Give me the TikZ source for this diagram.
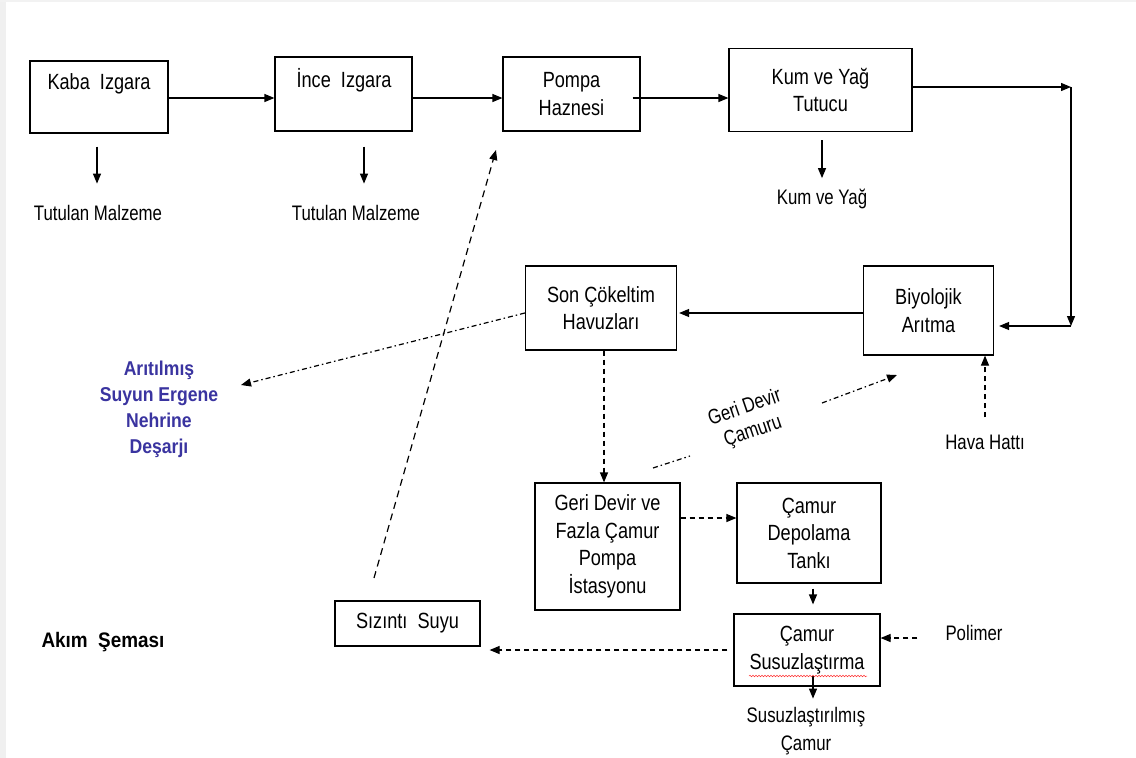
\documentclass[tikz,border=0pt]{standalone}
\usepackage{fontspec}
\setmainfont{Liberation Sans}[FakeStretch=0.8]
\newfontfamily\boxf{Liberation Sans}[FakeStretch=0.825]
\newfontfamily\akimf{Liberation Sans}[FakeStretch=0.9]
\newfontfamily\bluef{Liberation Sans}[FakeStretch=0.88]
\usetikzlibrary{arrows.meta,decorations.pathmorphing,calc}
\definecolor{dblue}{RGB}{58,52,160}
\begin{document}
\begin{tikzpicture}[x=1pt,y=-1pt,
 box/.style={draw, line width=1.2pt, inner sep=0pt, align=center, font=\boxf\fontsize{22}{27.5}\selectfont},
 btxt/.style={inner sep=0pt, align=center, font=\boxf\fontsize{22}{27.5}\selectfont},
 txt/.style={inner sep=0pt, align=center, font=\fontsize{21}{28}\selectfont},
 arr/.style={line width=1.2pt, -{Triangle[length=10pt,width=8pt]}},
 dsh/.style={arr, dash pattern=on 5pt off 4pt},
 dshdot/.style={arr, dash pattern=on 5pt off 3pt on 1.5pt off 3pt},
 ddline/.style={line width=1.2pt, dash pattern=on 5pt off 3pt on 1.5pt off 3pt},
]
\fill[white] (0,0) rectangle (1136,758);
\useasboundingbox (0,0) rectangle (1136,758);
\fill[gray!12] (0,0) rectangle (6,758);
\fill[gray!10] (0,0) rectangle (1136,2);

% boxes
\node[box, minimum width=138pt, minimum height=72pt] (kaba) at (99,97) {};
\node[btxt] (kabat) at (99,84) {Kaba\ \ Izgara};
\node[box, minimum width=137pt, minimum height=74pt] (ince) at (343.5,94) {};
\node[btxt] (incet) at (344,80) {İnce\ \ Izgara};
\node[box, minimum width=137pt, minimum height=74pt] (pompa) at (571.5,94) {Pompa\\Haznesi};
\node[box, minimum width=183pt, minimum height=83pt] (kum) at (820.5,90) {Kum ve Yağ\\Tutucu};
\node[box, minimum width=130pt, minimum height=89pt] (biyo) at (928.5,310.5) {Biyolojik\\Arıtma};
\node[box, minimum width=151pt, minimum height=84pt] (son) at (601,308) {Son Çökeltim\\Havuzları};
\node[box, minimum width=145pt, minimum height=127pt] (geri) at (607.5,546.5) {Geri Devir ve\\Fazla Çamur\\Pompa\\İstasyonu};
\node[box, minimum width=144pt, minimum height=100pt] (depo) at (809,533) {Çamur\\Depolama\\Tankı};
\node[box, minimum width=146pt, minimum height=72pt] (susuz) at (807,650) {Çamur\\Susuzlaştırma};
\node[box, minimum width=145pt, minimum height=45pt] (sizinti) at (407.5,623.5) {Sızıntı\ \ Suyu};

% free texts
\node[txt] (t1) at (98,213) {Tutulan Malzeme};
\node[txt] (t2) at (356,213) {Tutulan Malzeme};
\node[txt] (t3) at (822,199) {Kum ve Yağ};
\node[txt] (hava) at (985,442) {Hava Hattı};
\node[txt] (polimer) at (974,633) {Polimer};
\node[txt] (sus2) at (806,731) {Susuzlaştırılmış\\Çamur};
\node[inner sep=0pt, align=center, text=dblue, font=\bluef\bfseries\fontsize{20}{26}\selectfont] (arit) at (159,409) {Arıtılmış\\Suyun Ergene\\Nehrine\\Deşarjı};
\node[inner sep=0pt, font=\akimf\bfseries\fontsize{21}{27}\selectfont] (akim) at (103,642) {Akım\ \ Şeması};
\node[txt, rotate=19, font=\fontsize{21}{25}\selectfont] (gd) at (749,420) {Geri Devir\\Çamuru};

% coordinates
\coordinate (c1) at (1071,87);
\coordinate (c2) at (1071,326);
\coordinate (outp) at (241,385);
\coordinate (szs) at (374,578);
\coordinate (pzt) at (496,150);
\coordinate (g1) at (653,468);
\coordinate (g2) at (690,456);
\coordinate (g3) at (822,403);
\coordinate (g4) at (897,375);
\coordinate (pa) at ($(polimer.west)+(-28,5)$);

% solid flow
\draw[arr] ([yshift=-1pt]kaba.east) -- ([yshift=-1pt]kaba.east -| ince.west);
\draw[arr] ([yshift=-4pt]ince.east) -- ([yshift=-4pt]ince.east -| pompa.west);
\draw[arr] ([xshift=-8pt,yshift=-4pt]pompa.east) -- ([yshift=-4pt]pompa.east -| kum.west);
\draw[arr] ([yshift=3pt]kum.east) -- (c1);
\draw[arr] (c1) -- (c2);
\draw[arr, shorten >=5pt] (c2) -- (c2 -| biyo.east);
\draw[arr, shorten >=2pt] ([yshift=-2.5pt]biyo.west) -- ([yshift=-2.5pt]biyo.west -| son.east);

% side outputs
\draw[arr] ([xshift=-2pt,yshift=-13pt]kaba.south) -- ([xshift=-2pt,yshift=-50pt]kaba.south);
\draw[arr] ([xshift=20.5pt,yshift=-15pt]ince.south) -- ([xshift=20.5pt,yshift=-52pt]ince.south);
\draw[arr] ([xshift=1.5pt,yshift=-8pt]kum.south) -- ([xshift=1.5pt,yshift=-46pt]kum.south);

% discharge
\draw[dshdot] ([yshift=-5pt]son.west) -- (outp);

% sludge line
\draw[dsh] ([xshift=3pt]son.south) -- ([xshift=3pt]son.south |- geri.north);
\draw[dsh] ([yshift=28.5pt]geri.east) -- ([yshift=28.5pt]geri.east -| depo.west);
\draw[arr, shorten <=5pt, shorten >=9pt] ([xshift=4pt]depo.south) -- ([xshift=4pt]depo.south |- susuz.north);
\draw[arr] ([xshift=6pt,yshift=11pt]susuz.south) -- ([xshift=6pt,yshift=-12pt]susuz.south);
\draw[dsh] (pa) -- (pa -| susuz.east);
\draw[dsh, shorten <=6pt, shorten >=9pt] (susuz.west) -- (susuz.west -| sizinti.east);
\draw[arr, dash pattern=on 7pt off 5pt] (szs) -- (pzt);

% return sludge
\draw[ddline] (g1) -- (g2);
\draw[dshdot] (g3) -- (g4);

% air line
\draw[dsh, shorten <=17pt] (hava.north) -- (hava.north |- biyo.south);

% spell-check squiggle
\draw[red!80, line width=0.5pt, decorate, decoration={snake, amplitude=0.8pt, segment length=3pt}] (749,676) -- (867,676);
\end{tikzpicture}
\end{document}
